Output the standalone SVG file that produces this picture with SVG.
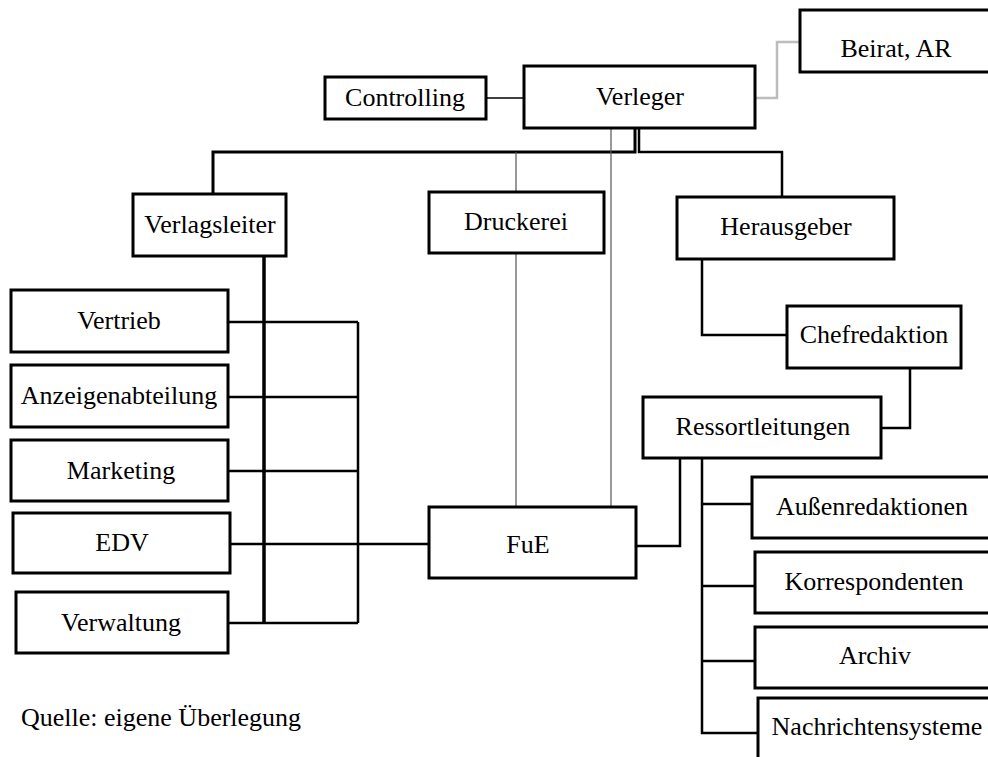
<svg xmlns="http://www.w3.org/2000/svg" width="988" height="757" viewBox="0 0 988 757">
<style>
  .box { fill: #fff; stroke: #000; stroke-width: 3; }
  .t { font-family: "Liberation Serif", "Times New Roman", serif; font-size: 26px; fill: #000; text-anchor: middle; }
  .c { fill: none; stroke: #000; stroke-width: 2.5; }
  .thin { fill: none; stroke: #555; stroke-width: 1.2; }
  .grey { fill: none; stroke: #bdbdbd; stroke-width: 2.5; }
</style>
<rect width="988" height="757" fill="#fff"/>
<g id="connectors">
  <path class="c" d="M486,98 H524" style="stroke-width:1.6"/>
  <path class="grey" d="M755,98 H777 V42 H800"/>
  <path class="c" d="M635,128 V152 H213 V194" style="stroke-width:3"/>
  <path class="c" d="M639,128 V152 H782 V197"/>
  <path class="thin" d="M516,152 V192 M516,253 V507"/>
  <path class="thin" d="M611,128 V507"/>
  <path class="c" d="M264,256 V623" style="stroke-width:3.5"/>
  <path class="c" d="M228,322 H358 M228,397 H358 M228,471 H358 M230,544 H429 M228,623 H358 M358,322 V623"/>
  <path class="c" d="M702,259 V335 H787"/>
  <path class="c" d="M910,368 V428 H881"/>
  <path class="c" d="M636,546 H680 V458"/>
  <path class="c" d="M702,458 V733 H758 M702,504 H752 M702,586 H755 M702,661 H755"/>
</g>
<g id="beirat"><rect class="box" x="800" y="10" width="200" height="62"/><text class="t" x="896" y="57">Beirat, AR</text></g>
<g id="verleger"><rect class="box" x="524" y="66" width="231" height="62"/><text class="t" x="640" y="105">Verleger</text></g>
<g id="controlling"><rect class="box" x="325" y="77" width="161" height="42"/><text class="t" x="405" y="106">Controlling</text></g>
<g id="verlagsleiter"><rect class="box" x="133" y="194" width="153" height="62"/><text class="t" x="210" y="233">Verlagsleiter</text></g>
<g id="druckerei"><rect class="box" x="429" y="192" width="175" height="61"/><text class="t" x="516" y="230">Druckerei</text></g>
<g id="herausgeber"><rect class="box" x="677" y="197" width="217" height="62"/><text class="t" x="786" y="235">Herausgeber</text></g>
<g id="chefredaktion"><rect class="box" x="787" y="306" width="174" height="62"/><text class="t" x="874" y="343">Chefredaktion</text></g>
<g id="ressortleitungen"><rect class="box" x="643" y="397" width="238" height="61"/><text class="t" x="763" y="435">Ressortleitungen</text></g>
<g id="fue"><rect class="box" x="429" y="507" width="207" height="71"/><text class="t" x="528" y="553">FuE</text></g>
<g id="vertrieb"><rect class="box" x="11" y="290" width="217" height="62"/><text class="t" x="119" y="329">Vertrieb</text></g>
<g id="anzeigenabteilung"><rect class="box" x="11" y="365" width="217" height="62"/><text class="t" x="119" y="404">Anzeigenabteilung</text></g>
<g id="marketing"><rect class="box" x="11" y="440" width="217" height="61"/><text class="t" x="121" y="479">Marketing</text></g>
<g id="edv"><rect class="box" x="13" y="513" width="217" height="60"/><text class="t" x="122" y="551">EDV</text></g>
<g id="verwaltung"><rect class="box" x="16" y="592" width="212" height="61"/><text class="t" x="121" y="631">Verwaltung</text></g>
<g id="aussenredaktionen"><rect class="box" x="752" y="477" width="250" height="61"/><text class="t" x="872" y="515">Außenredaktionen</text></g>
<g id="korrespondenten"><rect class="box" x="755" y="552" width="250" height="61"/><text class="t" x="874" y="590">Korrespondenten</text></g>
<g id="archiv"><rect class="box" x="755" y="627" width="250" height="61"/><text class="t" x="875" y="664">Archiv</text></g>
<g id="nachrichtensysteme"><rect class="box" x="758" y="698" width="250" height="70"/><text class="t" x="877" y="735">Nachrichtensysteme</text></g>
<g id="quelle"><text class="t" x="21" y="726" style="text-anchor:start">Quelle: eigene Überlegung</text></g>
</svg>
